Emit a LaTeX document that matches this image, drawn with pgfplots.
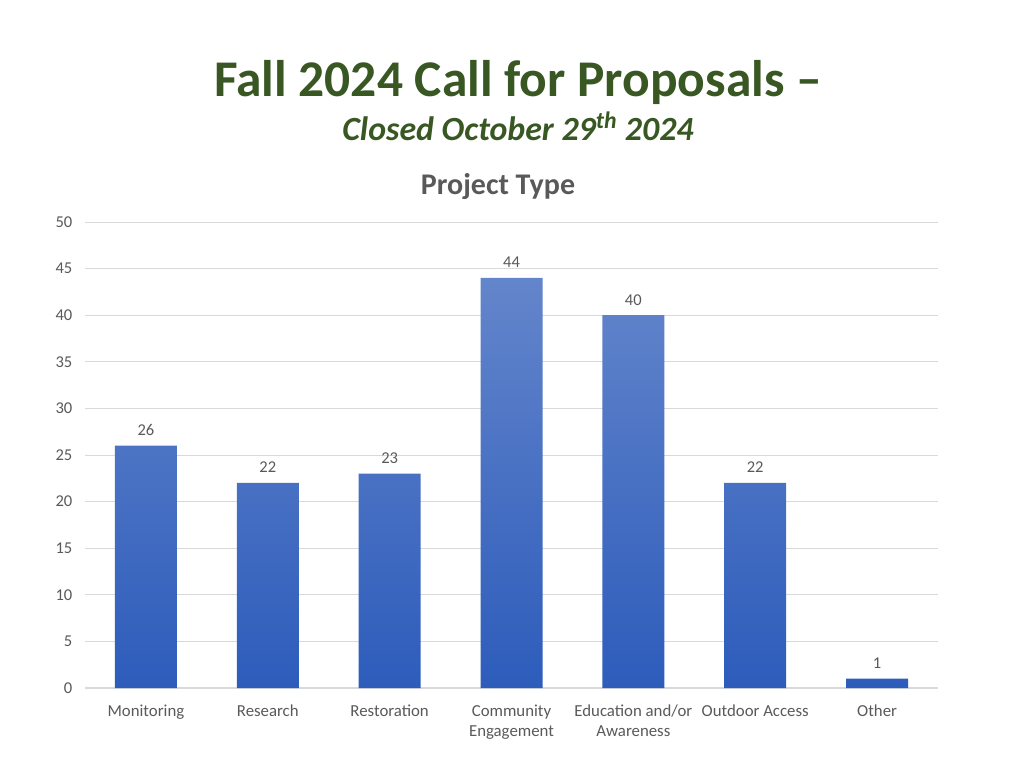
\documentclass[border=0pt]{standalone}
\usepackage{pgfplots}
\pgfplotsset{compat=1.18}
\usepackage{fontspec}
\setmainfont{Carlito}
\definecolor{titlegreen}{HTML}{385723}
\definecolor{txtgray}{HTML}{595959}
\definecolor{gridgray}{HTML}{D9D9D9}
\definecolor{bartop}{HTML}{6385CB}
\definecolor{barbot}{HTML}{2D5CBB}
\begin{document}
\begin{tikzpicture}[x=0.75pt,y=0.75pt]
% page frame 1024x768 px
\path (0,0) rectangle (1024,768);
\node[anchor=base,text=titlegreen,font=\fontsize{38.6}{44}\selectfont\bfseries] at (518,671) {Fall 2024 Call for Proposals --};
\node[anchor=base,text=titlegreen,font=\fontsize{25.4}{28}\selectfont\bfseries\itshape] at (518,627) {Closed October 29\textsuperscript{th} 2024};
\node[anchor=base,text=txtgray,font=\fontsize{22.5}{26}\selectfont\bfseries] at (498,573) {Project Type};
\begin{axis}[
    at={(63.75pt,60pt)}, anchor=south west,
    scale only axis,
    width=639.75pt, height=349.5pt,
    ybar, bar width=46.5pt,
    xmin=-0.5, xmax=6.5,
    ymin=0, ymax=50,
    ytick={0,5,...,50},
    xtick=data,
    xticklabels={Monitoring,Research,Restoration,{Community\\Engagement},{Education and/or\\Awareness},Outdoor Access,Other},
    xticklabel style={align=center,text=txtgray,font=\fontsize{12.6}{15}\selectfont},
    yticklabel style={text=txtgray,font=\fontsize{12.4}{14}\selectfont},
    /pgf/number format/assume math mode=true,
    major tick length=0pt,
    axis line style={draw=none},
    ymajorgrids, grid style={gridgray,line width=0.75pt},
    axis x line*=bottom, axis y line*=left,
    x axis line style={draw=gridgray,line width=1pt},
    y axis line style={draw=none},
    xticklabel shift=9pt, yticklabel shift=6pt,
    nodes near coords,
    nodes near coords style={text=txtgray,font=\fontsize{12.4}{14}\selectfont,/pgf/number format/assume math mode=true,yshift=4pt},
    clip=false,
]
\addplot[draw=none, top color=bartop, bottom color=barbot] coordinates {
(0,26) (1,22) (2,23) (3,44) (4,40) (5,22) (6,1)};
\end{axis}
\end{tikzpicture}
\end{document}
